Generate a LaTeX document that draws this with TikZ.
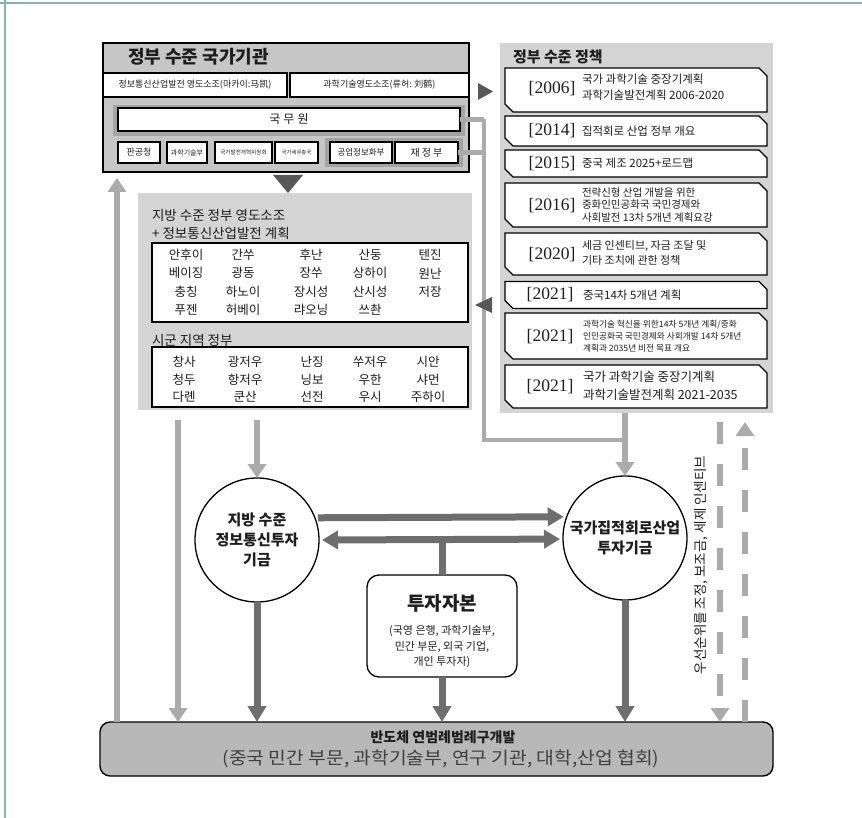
\documentclass[tikz,border=0pt]{standalone}
\usepackage{fontspec}
\setmainfont{Noto Sans CJK KR}
\newfontfamily\yearfont{Liberation Serif}
\usetikzlibrary{arrows.meta,calc}
\definecolor{panelgray}{HTML}{D4D4D4}
\definecolor{boxgray}{HTML}{C6C6C6}
\definecolor{shadegray}{HTML}{A4A4A4}
\definecolor{lgray}{HTML}{ABABAB}
\definecolor{dgray}{HTML}{6E6E6E}
\definecolor{trigray}{HTML}{585858}
\definecolor{basegray}{HTML}{B8B8B8}
\definecolor{framegreen}{HTML}{88B6A6}
\definecolor{txt}{HTML}{1E1E1E}
\newcommand\fsz[2]{\fontsize{#1}{#2}\selectfont}
\newcommand\polchamfer[1]{\draw[polline] (#1.north west) -- ([xshift=-8pt]#1.north east) -- ([yshift=-8pt]#1.north east) -- (#1.south east) -- ([xshift=8pt]#1.south west) -- ([yshift=8pt]#1.south west) -- cycle;}
\tikzset{
  every node/.style={inner sep=0pt, outer sep=0pt, text=txt},
  blackbox/.style={draw=black, line width=1.3pt, fill=white},
  shade/.style={fill=shadegray, draw=none},
  panel/.style={fill=panelgray, draw=none},
  polbox/.style={minimum width=262pt, draw=none},
  polline/.style={draw=black, line width=1.3pt, fill=white, line join=miter},
  yearf/.style={font=\yearfont\fsz{17.5}{20}},
  desc/.style={anchor=west, align=left},
  namef/.style={font=\fsz{12.5}{14}},
  larrow/.style={draw=lgray, line width=6.5pt, -{Triangle[length=14pt,width=18pt]}},
  lline/.style={draw=lgray, line width=4.5pt},
  darrow/.style={draw=dgray, line width=7pt, -{Triangle[length=16pt,width=18pt]}},
  dline/.style={draw=dgray, line width=7pt},
  dashedarrow/.style={draw=lgray, line width=6.5pt, dash pattern=on 22pt off 20pt, -{Triangle[length=14pt,width=18pt]}},
}
\begin{document}
\begin{tikzpicture}[x=1pt,y=-1pt]
\useasboundingbox (0,0) rectangle (862,818);
\fill[white] (0,0) rectangle (862,818);
\draw[framegreen, line width=2pt] (0,3) -- (862,3);
\draw[framegreen, line width=1.6pt] (5,0) -- (5,818);

% column coordinates
\coordinate (x117) at (117,0);
\coordinate (x178) at (178,0);
\coordinate (x720) at (720,0);
\coordinate (x745) at (745,0);
\coordinate (jn) at (484,440);

% ---------- top-left: national institutions ----------
\node[draw=black, line width=1.4pt, fill=boxgray, minimum width=366pt, minimum height=129pt] (tl) at (286,107.5) {};
\node[anchor=west, font=\fsz{18}{20}\bfseries] (tltitle) at (128,57) {정부 수준 국가기관};
\node[blackbox, minimum width=184pt, minimum height=24pt, font=\fsz{9}{10}] (lead1) at (195,85) {정보통신산업발전 영도소조(마카이:马凯)};
\node[blackbox, minimum width=179pt, minimum height=24pt, font=\fsz{9}{10}] (lead2) at (379.5,85) {과학기술영도소조(류허: 刘鹤)};
\node[shade, minimum width=352pt, minimum height=31pt] (sh1) at (289,120.5) {};
\node[blackbox, minimum width=342pt, minimum height=23pt, font=\fsz{12}{13}] (gm) at (289,119.5) {국\hspace{3pt}무\hspace{3pt}원};
\node[shade, minimum width=138pt, minimum height=29pt] (sh2) at (394,152.5) {};
\node[blackbox, minimum width=42pt, minimum height=21pt, font=\fsz{9}{10}] (m1) at (139,152.5) {판공청};
\node[blackbox, minimum width=40pt, minimum height=21pt, font=\fsz{7}{8}] (m2) at (187,152.5) {과학기술부};
\node[blackbox, minimum width=57pt, minimum height=21pt, font=\fsz{5.6}{6}] (m3) at (243.5,152.5) {국가발전개혁위원회};
\node[blackbox, minimum width=43pt, minimum height=21pt, font=\fsz{5.4}{6}] (m4) at (296.5,152.5) {국가세무총국};
\node[blackbox, minimum width=62pt, minimum height=21pt, font=\fsz{8.5}{9}] (m5) at (361,152.5) {공업정보화부};
\node[blackbox, minimum width=63pt, minimum height=21pt, font=\fsz{10}{11}] (jj) at (426.5,152.5) {재\hspace{2pt}정\hspace{2pt}부};

\fill[trigray] (273,175) -- (303,175) -- (288,193) -- cycle;
\fill[trigray] (478,83) -- (478,100) -- (493,91.5) -- cycle;

% ---------- middle: local governments ----------
\node[panel, minimum width=334pt, minimum height=217pt] (mp) at (305,301.5) {};
\node[anchor=west, font=\fsz{13.5}{15}] (mpt1) at (152,215) {지방 수준 정부 영도소조};
\node[anchor=west, font=\fsz{13.5}{15}] (mpt2) at (152,233) {+ 정보통신산업발전 계획};
\node[draw=black, line width=1.5pt, fill=white, minimum width=316pt, minimum height=79pt] (prov) at (310,282.5) {};
\foreach \row [count=\r] in {{안후이,간쑤,후난,산둥,텐진},{베이징,광동,장쑤,상하이,원난},{충칭,하노이,장시성,산시성,저장},{푸젠,허베이,랴오닝,쓰촨}} {
  \foreach \nm [count=\c] in \row {
    \pgfmathsetmacro\cx{{186,243,311,370,430}[\c-1]}
    \pgfmathsetmacro\cy{255+18.3*(\r-1)}
    \node[namef] (pa\r-\c) at (\cx,\cy) {\nm};
  }
}
\node[anchor=west, font=\fsz{13.5}{15}] (mpt3) at (152,340) {시군 지역 정부};
\node[draw=black, line width=1.5pt, fill=white, minimum width=316pt, minimum height=60pt] (city) at (310,377) {};
\foreach \row [count=\r] in {{창사,광저우,난징,쑤저우,시안},{청두,항저우,닝보,우한,샤먼},{다롄,쿤산,선전,우시,주하이}} {
  \foreach \nm [count=\c] in \row {
    \pgfmathsetmacro\cx{{184,245,312,370,428}[\c-1]}
    \pgfmathsetmacro\cy{362+17.5*(\r-1)}
    \node[namef] (pb\r-\c) at (\cx,\cy) {\nm};
  }
}

% ---------- right: policies ----------
\node[panel, minimum width=273pt, minimum height=370pt] (rp) at (636.5,228) {};
\node[anchor=west, font=\fsz{15}{17}\bfseries] (rpt) at (513,57) {정부 수준 정책};

\node[polbox, minimum height=44pt] (pol1) at (636,90) {};
\polchamfer{pol1}
\node[yearf] (yr1) at (552,89) {[2006]};
\node[desc, font=\fsz{11.5}{16}] (ds1) at (582,87) {국가 과학기술 중장기계획\\과학기술발전계획 2006-2020};

\node[polbox, minimum height=30pt] (pol2) at (636,131) {};
\polchamfer{pol2}
\node[yearf] (yr2) at (552,131) {[2014]};
\node[desc, font=\fsz{11.5}{13}] (ds2) at (582,131) {집적회로 산업 정부 개요};

\node[polbox, minimum height=27pt] (pol3) at (636,163.5) {};
\polchamfer{pol3}
\node[yearf] (yr3) at (552,163.5) {[2015]};
\node[desc, font=\fsz{11.5}{13}] (ds3) at (582,163.5) {중국 제조 2025+로드맵};

\node[polbox, minimum height=44pt] (pol4) at (636,205) {};
\polchamfer{pol4}
\node[yearf] (yr4) at (552,206) {[2016]};
\node[desc, font=\fsz{10.5}{12.5}] (ds4) at (582,205) {전략신형 산업 개발을 위한\\중화인민공화국 국민경제와\\사회발전 13차 5개년 계획요강};

\node[polbox, minimum height=42pt] (pol5) at (636,254) {};
\polchamfer{pol5}
\node[yearf] (yr5) at (552,255) {[2020]};
\node[desc, font=\fsz{11}{14.5}] (ds5) at (582,253) {세금 인센티브, 자금 조달 및\\기타 조치에 관한 정책};

\node[polbox, minimum height=27pt] (pol6) at (636,295) {};
\polchamfer{pol6}
\node[yearf] (yr6) at (550,295) {[2021]};
\node[desc, font=\fsz{11.5}{13}] (ds6) at (583,295.5) {중국14차 5개년 계획};

\node[polbox, minimum height=46pt] (pol7) at (636,336) {};
\polchamfer{pol7}
\node[yearf] (yr7) at (550,337) {[2021]};
\node[desc, font=\fsz{8.7}{12}] (ds7) at (583,336) {과학기술 혁신을 위한14차 5개년 계획/중화\\인민공화국 국민경제와 사회개발 14차 5개년\\계획과 2035년 비전 목표 개요};

\node[polbox, minimum height=43pt] (pol8) at (636,386.5) {};
\polchamfer{pol8}
\node[yearf] (yr8) at (550,387) {[2021]};
\node[desc, font=\fsz{12.5}{18}] (ds8) at (583,386) {국가 과학기술 중장기계획\\과학기술발전계획 2021-2035};

% ---------- circles, investment box, base ----------
\node[circle, draw=black, line width=1.3pt, fill=white, minimum size=124pt, align=center, font=\fsz{15}{20}\bfseries] (lc) at (257,540) {지방 수준\\정보통신투자\\기금};
\node[circle, draw=black, line width=1.3pt, fill=white, minimum size=124pt, align=center, font=\fsz{15}{20}\bfseries] (rc) at (625,538) {국가집적회로산업\\투자기금};
\node[draw=black, line width=1.3pt, fill=white, rounded corners=12pt, minimum width=150pt, minimum height=102pt] (ib) at (442,626) {};
\node[font=\fsz{19}{21}\bfseries] (ibt) at (442,603) {투자자본};
\node[align=center, font=\fsz{11}{15.5}] (ibs) at (442,647) {(국영 은행, 과학기술부,\\민간 부문, 외국 기업,\\개인 투자자)};
\node[draw=black, line width=1.4pt, fill=basegray, rounded corners=10pt, minimum width=673pt, minimum height=54pt] (bb) at (436.5,749) {};
\node[font=\fsz{14}{16}\bfseries] (bbt) at (443,737) {반도체 연범례범례구개발};
\node[font=\fsz{17.5}{19}, text=black!75] (bbs) at (441,759) {\scalebox{1.1}[1]{(중국 민간 부문, 과학기술부, 연구 기관, 대학,산업 협회)}};

% ---------- connectors ----------
% light grey
\draw[larrow] (bb.north -| x117) -- ([yshift=-6pt]tl.south -| x117);
\draw[larrow] ([yshift=-10pt]mp.south -| x178) -- (bb.north -| x178);
\draw[larrow] ([yshift=-10pt]mp.south -| lc) -- (lc.north);
\draw[lline] (gm.east) -- (gm.east -| jn);
\draw[lline] (jj.east) -- (jj.east -| jn);
\draw[lline] (gm.east -| jn) -- (jn) -- (jn -| rc);
\draw[larrow] (rp.south -| rc) -- (rc.north);
\fill[trigray] (492,297) -- (492,313) -- (475,305) -- cycle;
\draw[dashedarrow] ([yshift=-9pt]rp.south -| x720) -- (bb.north -| x720);
\draw[dashedarrow] (bb.north -| x745) -- ([yshift=-9pt]rp.south -| x745);
\node[rotate=90, font=\fsz{13.5}{15}] (inc) at (701,565) {우선순위를 조정, 보조금, 세제 인센티브};
% dark grey
\draw[darrow, shorten <=3pt, shorten >=3pt] (lc.21.8) -- (rc.160.2);
\draw[dline] (ib.north) -- (ib.north |- lc.east);
\draw[{Triangle[length=16pt,width=18pt]}-{Triangle[length=16pt,width=18pt]}, draw=dgray, line width=7pt, shorten <=3pt, shorten >=3pt] (lc.east) -- (rc.181.8);
\draw[darrow] (lc.south) -- (bb.north -| lc);
\draw[darrow] (ib.south) -- (bb.north -| ib);
\draw[darrow] (rc.south) -- (bb.north -| rc);
\end{tikzpicture}
\end{document}
